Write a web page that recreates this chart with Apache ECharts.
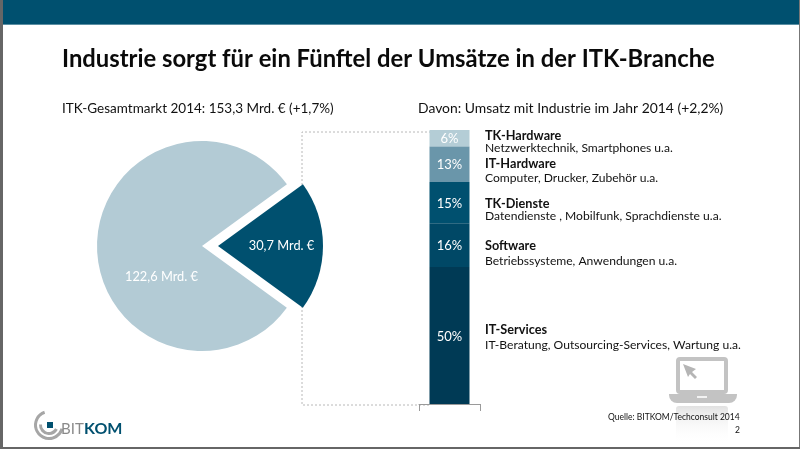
<!DOCTYPE html>
<html>
<head>
<meta charset="utf-8">
<style>html,body{margin:0;padding:0;background:#fff}#chart{width:800px;height:449px}</style>
<script src="https://cdn.jsdelivr.net/npm/echarts@6/dist/echarts.min.js"></script>
</head>
<body>
<div id="chart"></div>
<script>
// Market totals in billion euro
const marketNames = ['Industrie', 'Sonstige'];
const marketValues = [30.7, 122.6];
const marketColors = ['#00506f', '#b3cbd5'];

// Share of industry revenue per segment, top to bottom
const segmentNames = ['TK-Hardware', 'IT-Hardware', 'TK-Dienste', 'Software', 'IT-Services'];
const segmentShares = [6, 13, 15, 16, 50];
const segmentColors = ['#b4cdd6', '#6a96aa', '#00506f', '#004866', '#003a55'];
const segmentNotes = [
  'Netzwerktechnik, Smartphones u.a.',
  'Computer, Drucker, Zubehör u.a.',
  'Datendienste , Mobilfunk, Sprachdienste u.a.',
  'Betriebssysteme, Anwendungen u.a.',
  'IT-Beratung, Outsourcing-Services, Wartung u.a.'
];
const legendNameY = [136, 164, 204, 246, 330];
const legendNoteY = [148, 178, 216, 261, 345];

const headline = 'Industrie sorgt für ein Fünftel der Umsätze in der ITK-Branche';
const leftHeading = 'ITK-Gesamtmarkt 2014: 153,3 Mrd. € (+1,7%)';
const rightHeading = 'Davon: Umsatz mit Industrie im Jahr 2014 (+2,2%)';
const sourceNote = 'Quelle: BITKOM/Techconsult 2014';

const FONT = 'Lato';
const text = (x, y, t, size, weight, fill, align) => ({
  type: 'text', x, y, silent: true,
  style: { text: t, fontFamily: FONT, fontSize: size, fontWeight: weight || 'normal',
           fill: fill || '#111', align: align || 'left', verticalAlign: 'middle' }
});
const bar = (x, y, w, h, fill, r) => ({
  type: 'rect', silent: true, shape: { x, y, width: w, height: h, r: r || 0 }, style: { fill }
});
const dotted = (points) => ({
  type: 'polyline', silent: true, shape: { points },
  style: { fill: null, stroke: '#b8b8b8', lineWidth: 1, lineDash: [2, 2] }
});

// Page frame and header band
const frame = [
  bar(0, 0, 800, 24, '#00506f'),
  bar(0, 24, 800, 1, '#5b8fa3'),
  bar(0, 0, 3, 449, '#666666'),
  bar(799, 0, 1, 449, '#777777'),
  bar(0, 447, 800, 2, '#666666')
];

// Dotted connector from the pulled-out slice to the stacked column
const connectors = [
  dotted([[302, 185], [302, 132], [430, 132]]),
  dotted([[302, 306], [302, 405], [430, 405]])
];

// Laptop pictogram and its fading reflection
const laptopGrey = '#c3c3c3';
const laptop = [
  { type: 'rect', silent: true, shape: { x: 678, y: 359, width: 48, height: 33, r: 2 },
    style: { fill: '#fff', stroke: laptopGrey, lineWidth: 4 } },
  { type: 'polygon', silent: true,
    shape: { points: [[683, 364], [696, 369], [692, 372], [697, 377], [695, 379], [690, 374], [688, 377]] },
    style: { fill: '#b5b5b5' } },
  bar(669, 394, 68, 9, laptopGrey, [0, 0, 8, 8]),
  bar(697, 396, 10, 2, '#f2f2f2'),
  bar(676, 406, 52, 39, new echarts.graphic.LinearGradient(0, 0, 0, 1, [
    { offset: 0, color: 'rgba(195,195,195,0.5)' },
    { offset: 0.35, color: 'rgba(225,225,225,0.35)' },
    { offset: 1, color: 'rgba(255,255,255,0)' }
  ]), 3)
];

// Company mark: concentric arcs, square and word mark
const ring = (r0, r, start, end, fill) => ({
  type: 'sector', silent: true,
  shape: { cx: 49, cy: 425, r0, r, startAngle: start, endAngle: end, clockwise: false },
  style: { fill }
});
const logo = [
  ring(12, 15, -1.9, -6.0, '#a6a6a6'),
  ring(7, 10, 3.2, 0.5, '#a6a6a6'),
  bar(47, 422, 6, 6, '#00506f'),
  text(61, 429, 'BIT', 15, 'normal', '#8a8a8a'),
  text(84, 429, 'KOM', 16, 'bold', '#00506f')
];

// Text blocks
const texts = [
  text(62, 59, headline, 23.8, 'bold', '#0a0a0a'),
  text(62, 109, leftHeading, 13.5),
  text(418, 109, rightHeading, 13.9),
  text(608, 417, sourceNote, 8.5),
  text(740, 430, '2', 8.5, 'normal', '#111', 'right')
];
segmentNames.forEach((name, i) => {
  texts.push(text(485, legendNameY[i], name, 12.7, 'bold'));
  texts.push(text(485, legendNoteY[i], segmentNotes[i], 12.1));
});

const euro = v => String(v).replace('.', ',') + ' Mrd. €';

const chart = echarts.init(document.getElementById('chart'), null, { renderer: 'canvas' });
chart.setOption({
  animation: false,
  backgroundColor: '#fff',
  grid: { left: 419, top: 130, width: 61, height: 274, containLabel: false },
  xAxis: {
    type: 'category', data: ['Umsatz mit Industrie'],
    axisLine: { onZero: false, lineStyle: { color: '#9a9a9a' } },
    axisTick: { show: true, length: 7, lineStyle: { color: '#9a9a9a' } },
    axisLabel: { show: false }, splitLine: { show: false }
  },
  yAxis: { type: 'value', inverse: true, min: 0, max: 100, show: false },
  series: [
    {
      type: 'pie', center: [202, 246], radius: [0, 105],
      startAngle: 36, clockwise: true,
      selectedMode: 'single', selectedOffset: 16, silent: true,
      data: marketValues.map((value, i) => ({
        name: marketNames[i], value, selected: i === 0,
        itemStyle: { color: marketColors[i] }
      })),
      label: {
        show: true, position: 'inside', color: '#fff', fontFamily: FONT, fontSize: 12.8,
        formatter: p => euro(p.value)
      },
      labelLine: { show: false },
      labelLayout: p => p.dataIndex === 0 ? { dx: 8, dy: 0 } : { dx: 15, dy: 31 }
    },
    ...segmentNames.map((name, i) => ({
      type: 'bar', name, stack: 'share', barWidth: 40, silent: true,
      data: [segmentShares[i]],
      itemStyle: { color: segmentColors[i] },
      label: {
        show: true, position: 'inside', offset: [0, 1], color: '#fff', fontFamily: FONT, fontSize: 13,
        formatter: '{c}%'
      }
    }))
  ],
  graphic: { elements: [...connectors, ...laptop, ...logo, ...texts, ...frame] }
});
</script>
</body>
</html>
